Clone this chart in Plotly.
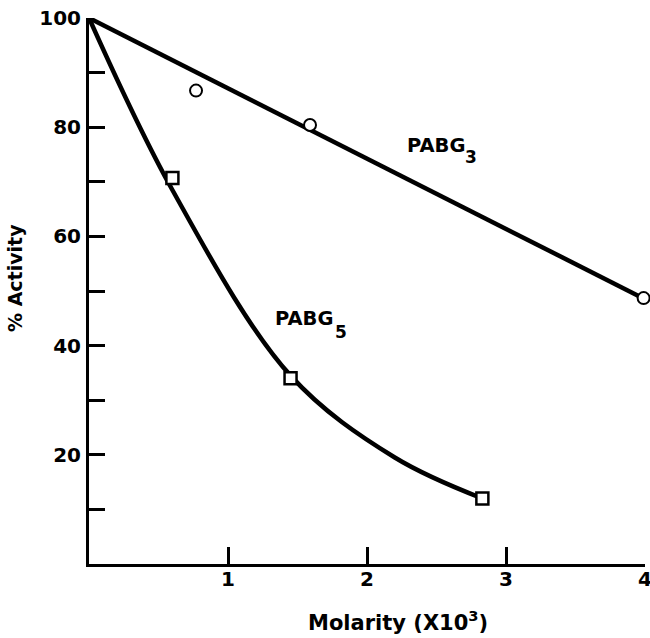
import plotly.graph_objects as go

# Measured points
pabg3_x = [0.77, 1.59, 3.99]
pabg3_y = [86.7, 80.4, 48.7]
pabg5_x = [0.6, 1.45, 2.83]
pabg5_y = [70.7, 34.0, 12.0]

# Fitted lines
fit3_x = [0.0, 4.0]
fit3_y = [100.0, 48.5]
fit5_x = [0.0, 0.6, 1.45, 2.2, 2.83]
fit5_y = [100.0, 68.5, 34.5, 19.5, 12.0]

# Axis ticks
x_ticks = [1, 2, 3, 4]
y_ticks = [10, 20, 30, 40, 50, 60, 70, 80, 90, 100]
y_labels = ["", "20", "", "40", "", "60", "", "80", "", "100"]

# Curve labels: (name, subscript, x, y, subscript x, subscript y)
curve_labels = [
    ("PABG", "3", 2.27, 76.6, 2.69, 74.6),
    ("PABG", "5", 1.324, 45.05, 1.755, 42.5),
]

FONT = "DejaVu Sans"

fig = go.Figure()
fig.add_trace(go.Scatter(x=fit3_x, y=fit3_y, mode="lines",
                         line=dict(color="black", width=4.5), cliponaxis=False))
fig.add_trace(go.Scatter(x=fit5_x, y=fit5_y, mode="lines",
                         line=dict(color="black", width=4.5, shape="spline", smoothing=1.0),
                         cliponaxis=False))
fig.add_trace(go.Scatter(x=pabg3_x, y=pabg3_y, mode="markers", cliponaxis=False,
                         marker=dict(symbol="circle", size=12, color="white",
                                     line=dict(color="black", width=2))))
fig.add_trace(go.Scatter(x=pabg5_x, y=pabg5_y, mode="markers", cliponaxis=False,
                         marker=dict(symbol="square", size=12, color="white",
                                     line=dict(color="black", width=2.5))))

for name, subscript, x, y, sx, sy in curve_labels:
    fig.add_annotation(x=x, y=y, xref="x", yref="y", text=name, showarrow=False,
                       xanchor="left", yanchor="middle",
                       font=dict(family=FONT, size=19.5, color="black", weight="bold"))
    fig.add_annotation(x=sx, y=sy, xref="x", yref="y", text=subscript, showarrow=False,
                       xanchor="left", yanchor="middle",
                       font=dict(family=FONT, size=17, color="black", weight="bold"))

L, R, T, B = 89, 5, 18, 74
W, H = 650, 638
pw, ph = W - L - R, H - T - B


def px_to_paper(px, py):
    return (px - L) / pw, 1 - (py - T) / ph


tx, ty = px_to_paper(398, 621)
fig.add_annotation(x=tx, y=ty, xref="paper", yref="paper", xanchor="center", yanchor="middle",
                   text="Molarity (X10<sup>3</sup>)", showarrow=False,
                   font=dict(family=FONT, size=21, color="black", weight="bold"))
tx, ty = px_to_paper(15, 278)
fig.add_annotation(x=tx, y=ty, xref="paper", yref="paper", xanchor="center", yanchor="middle",
                   text="% Activity", textangle=-90, showarrow=False,
                   font=dict(family=FONT, size=19, color="black", weight="bold"))

fig.update_layout(
    width=W, height=H,
    margin=dict(l=L, r=R, t=T, b=B, pad=0, autoexpand=False),
    paper_bgcolor="white", plot_bgcolor="white",
    showlegend=False,
    font=dict(family=FONT, size=20, color="black", weight="bold"),
    xaxis=dict(range=[0, 4], tickvals=x_ticks, ticks="inside", ticklen=17, tickwidth=2.5,
               tickcolor="black", showline=True, linecolor="black", linewidth=3,
               showgrid=False, zeroline=False, ticklabelstandoff=-5,
               ticklabeloverflow="allow", automargin=False,
               tickfont=dict(family=FONT, size=20, color="black", weight="bold")),
    yaxis=dict(range=[0, 100], tickvals=y_ticks, ticktext=y_labels, ticks="inside",
               ticklen=16, tickwidth=2.5, tickcolor="black", showline=True,
               linecolor="black", linewidth=3, showgrid=False, zeroline=False,
               ticklabelstandoff=1, automargin=False,
               tickfont=dict(family=FONT, size=20, color="black", weight="bold")),
)

fig.write_html("out.html")
